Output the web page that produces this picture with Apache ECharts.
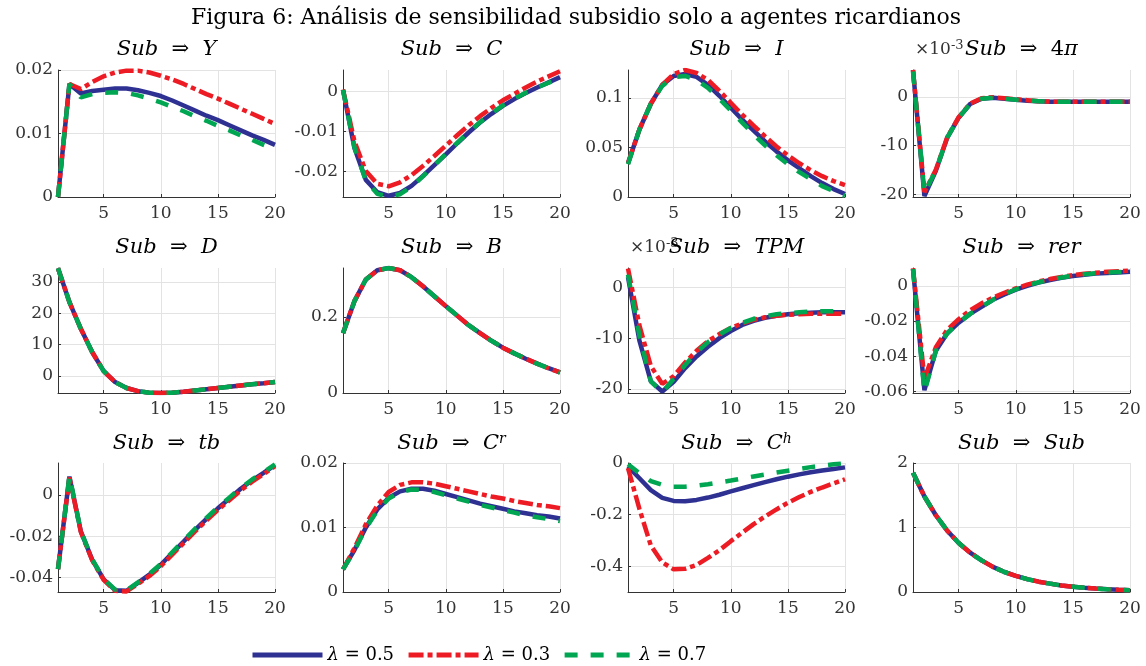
<!DOCTYPE html>
<html><head><meta charset="utf-8">
<script src="https://cdn.jsdelivr.net/npm/echarts@6/dist/echarts.min.js"></script>
<style>html,body{margin:0;padding:0;background:#fff}#c{width:1146px;height:666px}</style>
</head><body><div id="c"></div>
<script>
// ---------- DATA ----------
const periods = [1,2,3,4,5,6,7,8,9,10,11,12,13,14,15,16,17,18,19,20];
const seriesNames = ['λ = 0.5', 'λ = 0.3', 'λ = 0.7'];
const xTicks = [5, 10, 15, 20];

// Sub => Y
const Y_05 = [0, 0.0178, 0.0163, 0.0167, 0.0169, 0.0171, 0.0171, 0.0168, 0.0164, 0.0159, 0.0152, 0.0144, 0.0136, 0.0128, 0.0121, 0.0113, 0.0105, 0.0097, 0.0090, 0.0082];
const Y_03 = [0, 0.0178, 0.0170, 0.0181, 0.0190, 0.0196, 0.0199, 0.0199, 0.0196, 0.0191, 0.0185, 0.0178, 0.0170, 0.0162, 0.0155, 0.0147, 0.0139, 0.0131, 0.0123, 0.0115];
const Y_07 = [0, 0.0178, 0.0157, 0.0162, 0.0164, 0.0165, 0.0164, 0.0160, 0.0155, 0.0149, 0.0142, 0.0135, 0.0127, 0.0120, 0.0112, 0.0105, 0.0097, 0.0090, 0.0082, 0.0075];
const Y_ticks = [0, 0.01, 0.02];

// Sub => C
const C_05 = [0.0004, -0.0142, -0.0222, -0.0253, -0.0262, -0.0255, -0.0237, -0.0212, -0.0185, -0.0158, -0.0130, -0.0103, -0.0078, -0.0056, -0.0036, -0.0019, -0.0004, 0.0010, 0.0023, 0.0036];
const C_03 = [0.0005, -0.0125, -0.0200, -0.0232, -0.0238, -0.0228, -0.0210, -0.0187, -0.0162, -0.0136, -0.0110, -0.0085, -0.0062, -0.0041, -0.0022, -0.0006, 0.0010, 0.0025, 0.0038, 0.0051];
const C_07 = [0.0004, -0.0140, -0.0224, -0.0257, -0.0264, -0.0258, -0.0239, -0.0213, -0.0185, -0.0157, -0.0129, -0.0102, -0.0077, -0.0055, -0.0035, -0.0018, -0.0003, 0.0010, 0.0022, 0.0033];
const C_ticks = [-0.02, -0.01, 0];

// Sub => I
const I_05 = [0.034, 0.068, 0.094, 0.113, 0.122, 0.124, 0.121, 0.113, 0.102, 0.090, 0.078, 0.067, 0.056, 0.046, 0.037, 0.029, 0.021, 0.014, 0.008, 0.003];
const I_03 = [0.034, 0.068, 0.094, 0.113, 0.124, 0.128, 0.125, 0.118, 0.107, 0.095, 0.083, 0.072, 0.061, 0.051, 0.042, 0.034, 0.027, 0.021, 0.016, 0.012];
const I_07 = [0.033, 0.068, 0.094, 0.112, 0.121, 0.122, 0.118, 0.110, 0.099, 0.087, 0.075, 0.063, 0.052, 0.042, 0.033, 0.025, 0.018, 0.011, 0.006, 0.001];
const I_ticks = [0, 0.05, 0.1];

// Sub => 4pi  (x 10^-3)
const PI_05 = [5.5, -20.4, -15.2, -8.4, -4.3, -1.5, -0.4, -0.2, -0.4, -0.6, -0.8, -0.9, -1.0, -1.0, -1.0, -1.0, -1.0, -1.0, -1.0, -1.0];
const PI_03 = [5.5, -19.6, -15.0, -8.3, -4.2, -1.4, -0.3, -0.1, -0.3, -0.5, -0.7, -0.9, -1.0, -1.0, -1.0, -1.0, -1.0, -1.0, -1.0, -1.0];
const PI_07 = [5.2, -19.8, -15.1, -8.4, -4.3, -1.5, -0.4, -0.2, -0.4, -0.6, -0.8, -0.9, -1.0, -1.0, -1.0, -1.0, -1.0, -1.0, -1.0, -1.0];
const PI_ticks = [-20, -10, 0];

// Sub => D
const D_05 = [34.3, 23.5, 15.0, 7.5, 1.5, -2.0, -3.9, -4.9, -5.4, -5.5, -5.4, -5.1, -4.7, -4.3, -3.9, -3.5, -3.1, -2.7, -2.4, -2.0];
const D_03 = [34.3, 23.5, 15.0, 7.5, 1.5, -2.0, -3.9, -4.9, -5.4, -5.5, -5.4, -5.1, -4.7, -4.3, -3.9, -3.5, -3.1, -2.7, -2.4, -2.0];
const D_07 = [34.3, 23.5, 15.0, 7.5, 1.5, -2.0, -3.9, -4.9, -5.4, -5.5, -5.4, -5.1, -4.7, -4.3, -3.9, -3.5, -3.1, -2.7, -2.4, -2.0];
const D_ticks = [0, 10, 20, 30];

// Sub => B
const B_05 = [0.157, 0.241, 0.298, 0.322, 0.328, 0.322, 0.304, 0.280, 0.254, 0.228, 0.203, 0.178, 0.157, 0.137, 0.119, 0.104, 0.090, 0.077, 0.065, 0.054];
const B_03 = [0.157, 0.241, 0.298, 0.322, 0.328, 0.322, 0.304, 0.280, 0.254, 0.228, 0.203, 0.178, 0.157, 0.137, 0.119, 0.104, 0.090, 0.077, 0.065, 0.054];
const B_07 = [0.157, 0.241, 0.298, 0.322, 0.328, 0.322, 0.304, 0.280, 0.254, 0.228, 0.203, 0.178, 0.157, 0.137, 0.119, 0.104, 0.090, 0.077, 0.065, 0.054];
const B_ticks = [0, 0.2];

// Sub => TPM  (x 10^-3)
const TPM_05 = [2.0, -10.5, -18.5, -20.5, -18.6, -15.9, -13.6, -11.7, -10.0, -8.6, -7.4, -6.6, -6.0, -5.6, -5.3, -5.1, -5.0, -4.9, -4.9, -4.9];
const TPM_03 = [3.7, -7.5, -15.5, -19.0, -17.5, -14.8, -12.5, -10.6, -9.2, -8.0, -7.1, -6.4, -5.9, -5.6, -5.4, -5.3, -5.2, -5.2, -5.2, -5.2];
const TPM_07 = [2.5, -9.5, -18.5, -20.7, -18.0, -15.3, -12.8, -10.8, -9.3, -8.0, -7.0, -6.2, -5.7, -5.3, -5.1, -4.9, -4.8, -4.7, -4.7, -4.7];
const TPM_ticks = [-20, -10, 0];

// Sub => rer
const RER_05 = [0.0095, -0.0594, -0.037, -0.027, -0.021, -0.016, -0.012, -0.008, -0.005, -0.0022, 0.0000, 0.0018, 0.0033, 0.0045, 0.0055, 0.0063, 0.0069, 0.0073, 0.0076, 0.0079];
const RER_03 = [0.0100, -0.0528, -0.035, -0.025, -0.019, -0.014, -0.010, -0.0068, -0.0040, -0.0015, 0.0006, 0.0024, 0.0038, 0.0050, 0.0060, 0.0068, 0.0074, 0.0079, 0.0083, 0.0086];
const RER_07 = [0.0095, -0.0605, -0.037, -0.027, -0.021, -0.016, -0.012, -0.008, -0.0048, -0.0020, 0.0002, 0.0020, 0.0035, 0.0047, 0.0057, 0.0065, 0.0071, 0.0075, 0.0078, 0.0081];
const RER_ticks = [-0.06, -0.04, -0.02, 0];

// Sub => tb
const TB_05 = [-0.036, 0.0089, -0.0177, -0.0315, -0.0410, -0.0462, -0.0465, -0.0427, -0.0387, -0.0339, -0.0282, -0.0226, -0.0169, -0.0116, -0.0065, -0.0018, 0.0030, 0.0071, 0.0107, 0.0145];
const TB_03 = [-0.036, 0.0085, -0.0180, -0.0318, -0.0412, -0.0465, -0.0468, -0.0432, -0.0393, -0.0346, -0.0290, -0.0234, -0.0177, -0.0124, -0.0073, -0.0026, 0.0022, 0.0064, 0.0101, 0.0140];
const TB_07 = [-0.036, 0.0093, -0.0175, -0.0313, -0.0408, -0.0460, -0.0463, -0.0424, -0.0383, -0.0335, -0.0278, -0.0221, -0.0164, -0.0111, -0.0060, -0.0013, 0.0034, 0.0075, 0.0111, 0.0148];
const TB_ticks = [-0.04, -0.02, 0];

// Sub => C^r
const CR_05 = [0.0035, 0.0065, 0.0100, 0.0128, 0.0146, 0.0156, 0.0160, 0.0160, 0.0157, 0.0152, 0.0147, 0.0142, 0.0137, 0.0133, 0.0129, 0.0125, 0.0122, 0.0119, 0.0117, 0.0114];
const CR_03 = [0.0035, 0.0068, 0.0105, 0.0134, 0.0155, 0.0166, 0.0170, 0.0170, 0.0168, 0.0164, 0.0160, 0.0156, 0.0152, 0.0148, 0.0145, 0.0141, 0.0138, 0.0135, 0.0133, 0.0130];
const CR_07 = [0.0035, 0.0064, 0.0099, 0.0126, 0.0145, 0.0155, 0.0159, 0.0158, 0.0155, 0.0150, 0.0145, 0.0140, 0.0135, 0.0131, 0.0127, 0.0123, 0.0119, 0.0116, 0.0113, 0.0110];
const CR_ticks = [0, 0.01, 0.02];

// Sub => C^h
const CH_05 = [-0.013, -0.059, -0.105, -0.135, -0.147, -0.148, -0.143, -0.134, -0.123, -0.110, -0.098, -0.086, -0.074, -0.063, -0.053, -0.044, -0.036, -0.029, -0.023, -0.017];
const CH_03 = [-0.020, -0.178, -0.320, -0.385, -0.412, -0.410, -0.395, -0.368, -0.338, -0.303, -0.270, -0.237, -0.207, -0.180, -0.154, -0.132, -0.112, -0.095, -0.079, -0.063];
const CH_07 = [-0.005, -0.040, -0.070, -0.085, -0.092, -0.092, -0.088, -0.082, -0.075, -0.068, -0.060, -0.052, -0.045, -0.037, -0.030, -0.023, -0.016, -0.010, -0.005, -0.001];
const CH_ticks = [-0.4, -0.2, 0];

// Sub => Sub
const SUB_05 = [1.85, 1.48, 1.19, 0.95, 0.76, 0.61, 0.49, 0.39, 0.31, 0.25, 0.20, 0.16, 0.13, 0.10, 0.083, 0.066, 0.053, 0.043, 0.034, 0.027];
const SUB_03 = [1.85, 1.48, 1.19, 0.95, 0.76, 0.61, 0.49, 0.39, 0.31, 0.25, 0.20, 0.16, 0.13, 0.10, 0.083, 0.066, 0.053, 0.043, 0.034, 0.027];
const SUB_07 = [1.85, 1.48, 1.19, 0.95, 0.76, 0.61, 0.49, 0.39, 0.31, 0.25, 0.20, 0.16, 0.13, 0.10, 0.083, 0.066, 0.053, 0.043, 0.034, 0.027];
const SUB_ticks = [0, 1, 2];

// ---------- PANELS ----------
const panels = [
  {t:'{i|Sub}  ⇒  {i|Y}', d:[Y_05,Y_03,Y_07], ticks:Y_ticks, min:0, max:0.02},
  {t:'{i|Sub}  ⇒  {i|C}', d:[C_05,C_03,C_07], ticks:C_ticks, min:-0.0265, max:0.0054},
  {t:'{i|Sub}  ⇒  {i|I}', d:[I_05,I_03,I_07], ticks:I_ticks, min:0, max:0.128},
  {t:'{i|Sub}  ⇒  4{i|π}', d:[PI_05,PI_03,PI_07], ticks:PI_ticks, min:-20.6, max:5.5, exp:true},
  {t:'{i|Sub}  ⇒  {i|D}', d:[D_05,D_03,D_07], ticks:D_ticks, min:-5.5, max:34.4},
  {t:'{i|Sub}  ⇒  {i|B}', d:[B_05,B_03,B_07], ticks:B_ticks, min:0, max:0.328},
  {t:'{i|Sub}  ⇒  {i|TPM}', d:[TPM_05,TPM_03,TPM_07], ticks:TPM_ticks, min:-20.8, max:3.8, exp:true},
  {t:'{i|Sub}  ⇒  {i|rer}', d:[RER_05,RER_03,RER_07], ticks:RER_ticks, min:-0.061, max:0.0101},
  {t:'{i|Sub}  ⇒  {i|tb}', d:[TB_05,TB_03,TB_07], ticks:TB_ticks, min:-0.0471, max:0.0155},
  {t:'{i|Sub}  ⇒  {i|C}{s|r}', d:[CR_05,CR_03,CR_07], ticks:CR_ticks, min:0, max:0.02},
  {t:'{i|Sub}  ⇒  {i|C}{s|h}', d:[CH_05,CH_03,CH_07], ticks:CH_ticks, min:-0.5, max:0},
  {t:'{i|Sub}  ⇒  {i|Sub}', d:[SUB_05,SUB_03,SUB_07], ticks:SUB_ticks, min:0, max:2}
];

const colLeft = [58, 343, 628, 913];
const colW = 217;
const rowTop = [70, 268, 463];
const rowH = [127, 125, 129];
const titleY = [50, 248, 444];
const colors = ['#2E3192', '#ED1C24', '#00A651'];
const dashes = ['solid', [15, 4, 5, 4], [13, 13]];
const FONT = 'DejaVu Serif';

const grids = [], xAxes = [], yAxes = [], series = [], graphics = [];
panels.forEach((p, i) => {
  const r = Math.floor(i / 4), c = i % 4;
  grids.push({left: colLeft[c], top: rowTop[r], width: colW, height: rowH[r], containLabel: false});
  xAxes.push({
    type: 'value', gridIndex: i, min: 1, max: 20,
    axisLine: {show: true, onZero: false, lineStyle: {color: '#333', width: 1}},
    axisTick: {show: true, inside: true, length: 3, customValues: xTicks, lineStyle: {color: '#333'}},
    axisLabel: {customValues: xTicks, color: '#333', fontFamily: FONT, fontSize: 17, margin: 8},
    splitLine: {show: true, lineStyle: {color: '#e3e3e3', width: 1}}
  });
  yAxes.push({
    type: 'value', gridIndex: i, min: p.min, max: p.max,
    axisLine: {show: true, onZero: false, lineStyle: {color: '#333', width: 1}},
    axisTick: {show: true, inside: true, length: 3, customValues: p.ticks, lineStyle: {color: '#333'}},
    axisLabel: {customValues: p.ticks, color: '#333', fontFamily: FONT, fontSize: 17, margin: 5,
      formatter: v => String(+Number(v).toFixed(6))},
    splitLine: {show: true, lineStyle: {color: '#e3e3e3', width: 1}}
  });
  p.d.forEach((arr, k) => {
    series.push({
      type: 'line', name: seriesNames[k], xAxisIndex: i, yAxisIndex: i,
      data: periods.map((t, j) => [t, arr[j]]),
      showSymbol: false, symbol: 'none', smooth: false, silent: true, z: 2 + k,
      lineStyle: {color: colors[k], width: 4.5, type: dashes[k], cap: 'butt'},
      itemStyle: {color: colors[k]}
    });
  });
  const cx = colLeft[c] + colW / 2;
  graphics.push({
    type: 'text', x: cx, y: titleY[r], z: 100,
    style: {
      text: p.t, fill: '#000', fontFamily: FONT, fontSize: 21,
      align: 'center', verticalAlign: 'middle', textAlign: 'center', textVerticalAlign: 'middle',
      rich: {
        i: {fontStyle: 'italic', fontFamily: FONT, fontSize: 21, fill: '#000'},
        s: {fontStyle: 'italic', fontFamily: FONT, fontSize: 14, fill: '#000', padding: [0, 0, 10, 0]}
      }
    }
  });
  if (p.exp) {
    graphics.push({
      type: 'text', x: colLeft[c] + 2, y: titleY[r], z: 99,
      style: {
        text: '×10{s|-3}', fill: '#333', fontFamily: FONT, fontSize: 17,
        align: 'left', verticalAlign: 'middle', textAlign: 'left', textVerticalAlign: 'middle',
        rich: {s: {fontFamily: FONT, fontSize: 13, fill: '#333', padding: [0, 0, 9, 0]}}
      }
    });
  }
});

graphics.push({
  type: 'text', x: 576, y: 18, z: 100,
  style: {
    text: 'Figura 6: Análisis de sensibilidad subsidio solo a agentes ricardianos',
    fill: '#000', fontFamily: FONT, fontSize: 22,
    align: 'center', verticalAlign: 'middle', textAlign: 'center', textVerticalAlign: 'middle'
  }
});

const chart = echarts.init(document.getElementById('c'), null, {renderer: 'canvas'});
chart.setOption({
  animation: false,
  backgroundColor: '#fff',
  grid: grids, xAxis: xAxes, yAxis: yAxes, series: series,
  legend: {
    data: seriesNames, left: 245, top: 641, itemWidth: 70, itemHeight: 16, itemGap: 12,
    itemStyle: {opacity: 0, borderWidth: 0},
    lineStyle: {width: 5},
    formatter: n => n.replace('λ', '{i|λ}'),
    textStyle: {fontFamily: FONT, fontSize: 18, color: '#000',
      rich: {i: {fontStyle: 'italic', fontFamily: FONT, fontSize: 18, color: '#000'}}},
    selectedMode: false
  },
  graphic: graphics
});
</script>
</body></html>
